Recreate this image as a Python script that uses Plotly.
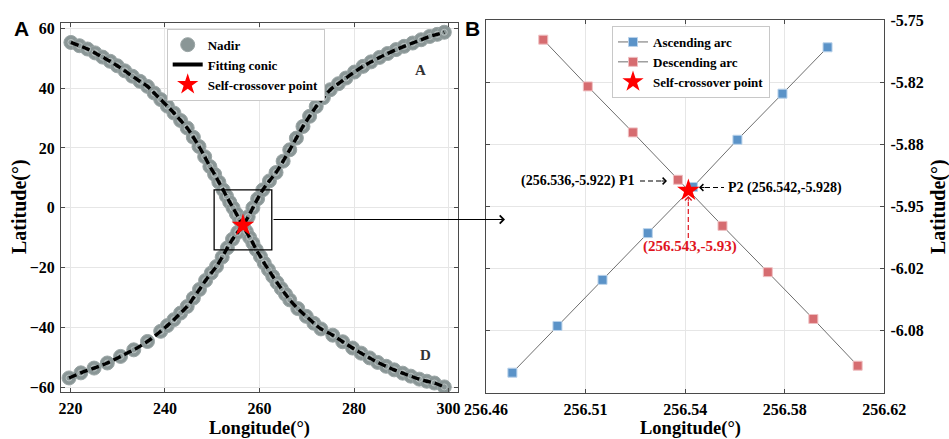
import plotly.graph_objects as go

# ---------------- data ----------------
# Panel A: descending arc nadir points (lon, lat)
desc_lon = [220.1, 221.9, 223.6, 225.2, 226.8, 228.4, 229.9, 231.5, 233.1, 234.7,
            236.3, 237.7, 239.1, 240.5, 241.9, 243.3, 244.7, 246.0, 247.2, 248.4,
            249.5, 250.5, 251.4, 252.3, 253.0, 253.7, 254.4, 255.1, 255.8, 256.5,
            257.2, 257.9, 258.6, 259.3, 260.2, 261.0, 261.9, 262.8, 263.7, 264.6,
            265.5, 266.4, 268.1, 269.9, 271.5, 273.0, 275.5, 277.6, 279.7, 281.5,
            283.3, 285.0, 286.8, 288.5, 290.3, 292.0, 293.8, 295.4, 297.0, 299.1]
desc_lat = [55.3, 54.2, 53.1, 51.8, 50.4, 49.0, 47.5, 45.8, 44.0, 42.3,
            40.6, 38.4, 36.2, 34.0, 31.7, 29.2, 26.7, 23.6, 20.5, 17.1,
            13.8, 11.2, 8.6, 6.0, 3.9, 1.9, 0.0, -2.0, -4.0, -5.9,
            -7.9, -9.9, -11.8, -14.0, -16.3, -18.5, -20.7, -22.9, -25.0, -27.0,
            -28.9, -30.8, -33.7, -36.3, -38.6, -40.5, -42.6, -44.8, -46.9, -48.6,
            -50.2, -51.7, -53.0, -54.2, -55.3, -56.3, -57.3, -58.0, -58.6, -59.9]
# Panel A: ascending arc nadir points (lon, lat)
asc_lon = [219.7, 222.2, 225.0, 227.8, 230.6, 233.4, 236.3, 239.1, 240.5, 241.9,
           243.3, 244.7, 246.0, 247.3, 248.6, 249.8, 250.9, 252.1, 253.2, 254.3,
           255.4, 256.5, 257.6, 258.6, 259.6, 260.7, 262.1, 263.5, 265.0, 266.4,
           267.8, 269.2, 270.6, 272.0, 273.5, 275.0, 276.7, 278.3, 280.1, 281.9,
           283.6, 285.4, 287.1, 288.9, 290.6, 292.4, 294.2, 296.0, 297.6, 299.1]
asc_lat = [-56.9, -55.2, -53.6, -51.9, -49.7, -47.5, -44.7, -41.3, -39.4, -37.4,
           -35.2, -33.0, -30.2, -27.3, -24.3, -21.8, -19.6, -16.5, -13.4, -10.5,
           -8.2, -5.9, -3.0, 0.0, 3.0, 6.0, 9.0, 11.8, 15.6, 19.4,
           23.3, 27.2, 30.6, 33.9, 36.8, 39.5, 41.5, 43.4, 45.4, 47.3,
           48.8, 50.3, 51.6, 52.9, 54.0, 55.1, 56.2, 57.3, 58.0, 58.7]
cross_a = (256.5, -5.9)

# Panel B: zoomed arcs
b_asc_lon = [256.4706, 256.4887, 256.5068, 256.5250, 256.5431, 256.5610, 256.5791, 256.5972]
b_asc_lat = [-6.1285, -6.0783, -6.0288, -5.9786, -5.9291, -5.8783, -5.8288, -5.7790]
b_desc_lon = [256.4830, 256.5009, 256.5190, 256.5371, 256.5550, 256.5732, 256.5915, 256.6093]
b_desc_lat = [-5.7708, -5.8210, -5.8704, -5.9213, -5.9708, -6.0205, -6.0708, -6.1210]
cross_b = (256.5413, -5.9328)

# tick labels
a_xticks = [220, 240, 260, 280, 300]
a_yticks = [-60, -40, -20, 0, 20, 40, 60]
b_xtickvals = [256.46, 256.50, 256.54, 256.58, 256.62]
b_xticktext = ["256.46", "256.51", "256.54", "256.58", "256.62"]
b_ytickvals = [-5.75 - k / 15 for k in range(6)]
b_yticktext = ["-5.75", "-5.82", "-5.88", "-5.95", "-6.02", "-6.08"]

# ---------------- styling ----------------
W, H = 949, 439
SERIF = "Liberation Serif"
GRAY = "#8a9696"
BLUE = "#5b93c8"
RED = "#d66c70"
AX = "#4a4a4a"


def px(x):
    return x / W


def py(y):
    return 1 - y / H


fig = go.Figure()

# ----- Panel A -----
for i, (lo, la) in enumerate([(desc_lon, desc_lat), (asc_lon, asc_lat)]):
    fig.add_trace(go.Scatter(x=lo, y=la, mode="markers", name="Nadir",
                             marker=dict(symbol="circle", size=14, color=GRAY,
                                         line=dict(color="#9aa5a5", width=1)),
                             legend="legend", showlegend=(i == 0),
                             xaxis="x", yaxis="y"))
for lo, la in [(desc_lon, desc_lat), (asc_lon, asc_lat)]:
    fig.add_trace(go.Scatter(x=lo, y=la, mode="markers", showlegend=False,
                             marker=dict(symbol="circle-open", size=6, color="#b9c1c1",
                                         line=dict(width=1)),
                             xaxis="x", yaxis="y"))
for lo, la in [(desc_lon, desc_lat), (asc_lon, asc_lat)]:
    fig.add_trace(go.Scatter(x=lo, y=la, mode="lines", showlegend=False,
                             line=dict(color="black", width=3.4, dash="8px,4px", shape="spline"),
                             xaxis="x", yaxis="y"))
fig.add_trace(go.Scatter(x=[None], y=[None], mode="lines", name="Fitting conic",
                         line=dict(color="black", width=4), legend="legend",
                         xaxis="x", yaxis="y"))
fig.add_trace(go.Scatter(x=[cross_a[0]], y=[cross_a[1]], mode="markers",
                         name="Self-crossover point", legend="legend",
                         marker=dict(symbol="star", size=17, color="red",
                                     line=dict(width=0)),
                         xaxis="x", yaxis="y"))

# ----- Panel B -----
fig.add_trace(go.Scatter(x=b_asc_lon, y=b_asc_lat, mode="lines+markers", name="Ascending arc",
                         line=dict(color="#6e6e6e", width=1),
                         marker=dict(symbol="square", size=9, color=BLUE,
                                     line=dict(color="#b9d2ea", width=1)),
                         legend="legend2", xaxis="x2", yaxis="y2"))
fig.add_trace(go.Scatter(x=b_desc_lon, y=b_desc_lat, mode="lines+markers", name="Descending arc",
                         line=dict(color="#6e6e6e", width=1),
                         marker=dict(symbol="square", size=9, color=RED,
                                     line=dict(color="#efc0c2", width=1)),
                         legend="legend2", xaxis="x2", yaxis="y2"))
fig.add_trace(go.Scatter(x=[cross_b[0]], y=[cross_b[1]], mode="markers",
                         name="Self-crossover point", legend="legend2",
                         marker=dict(symbol="star", size=17, color="red", line=dict(width=0)),
                         xaxis="x2", yaxis="y2"))

tickfont = dict(family=SERIF, size=16, color="black", weight="bold")
common = dict(showline=True, linecolor=AX, linewidth=1, mirror="ticks",
              ticks="inside", ticklen=4, tickcolor=AX, showgrid=True,
              gridcolor="#e6e6e6", gridwidth=1, zeroline=False, tickfont=tickfont,
              automargin=False)

legfont = dict(family=SERIF, size=13, color="black", weight="bold")
fig.update_layout(
    template="none",
    width=W, height=H, margin=dict(l=0, r=0, t=0, b=0, pad=0, autoexpand=False),
    paper_bgcolor="white", plot_bgcolor="white",
    xaxis=dict(domain=[px(61), px(458)], range=[218, 302], tickvals=a_xticks,
               anchor="y", ticklabelstandoff=2, **common),
    yaxis=dict(domain=[py(392), py(22.7)], range=[-61.6, 61.9], tickvals=a_yticks,
               anchor="x", ticklabelstandoff=2, **common),
    xaxis2=dict(domain=[px(486), px(884.3)], range=[256.46, 256.62], tickvals=b_xtickvals,
                ticktext=b_xticktext, anchor="y2", ticklabelstandoff=2, **common),
    yaxis2=dict(domain=[py(392.7), py(20.3)], range=[-6.15, -5.75], tickvals=b_ytickvals,
                ticktext=b_yticktext, anchor="x2", side="right", ticklabelstandoff=2, **common),
    legend=dict(x=px(166.7), y=py(28.7), xanchor="left", yanchor="top",
                bgcolor="white", bordercolor="#c8c8c8", borderwidth=1,
                font=legfont, tracegroupgap=0, itemwidth=30),
    legend2=dict(x=px(612), y=py(26), xanchor="left", yanchor="top",
                 bgcolor="white", bordercolor="#c8c8c8", borderwidth=1,
                 font=legfont, tracegroupgap=0, itemwidth=30),
)

bold_serif = lambda s, c="black": dict(family=SERIF, size=s, color=c, weight="bold")
ann = []
# panel labels
ann.append(dict(text="A", x=px(21.7), y=py(28.5), font=dict(family="Liberation Sans", size=21, color="black", weight="bold")))
ann.append(dict(text="B", x=px(472), y=py(28.5), font=dict(family="Liberation Sans", size=21, color="black", weight="bold")))
# axis titles
ann.append(dict(text="Latitude(°)", x=px(19), y=py(207), textangle=-90, font=bold_serif(20)))
ann.append(dict(text="Longitude(°)", x=px(259), y=py(428), font=bold_serif(18.5)))
ann.append(dict(text="Longitude(°)", x=px(690), y=py(428), font=bold_serif(18.5)))
ann.append(dict(text="Latitude(°)", x=px(938), y=py(207), textangle=-90, font=bold_serif(20)))
# arc labels
ann.append(dict(text="A", x=px(420.7), y=py(70), font=bold_serif(15, "#333333")))
ann.append(dict(text="D", x=px(425), y=py(355), font=bold_serif(15, "#333333")))
# connector arrow
ann.append(dict(text="", x=px(505), y=py(219.5), ax=-233, ay=0, showarrow=True,
                arrowhead=4, arrowsize=1.3, arrowwidth=1.2, arrowcolor="black"))
# panel B callouts
ann.append(dict(text="(256.536,-5.922) P1", x=px(637), y=py(181), xanchor="right",
                font=bold_serif(14)))
ann.append(dict(text="", x=px(667), y=py(181), ax=-7, ay=0, showarrow=True,
                arrowhead=4, arrowsize=1.3, arrowwidth=1, arrowcolor="black"))
ann.append(dict(text="P2 (256.542,-5.928)", x=px(726), y=py(187.5), xanchor="left",
                font=bold_serif(14)))
ann.append(dict(text="", x=px(699), y=py(187.5), ax=7, ay=0, showarrow=True,
                arrowhead=4, arrowsize=1.3, arrowwidth=1, arrowcolor="black"))
ann.append(dict(text="(256.543,-5.93)", x=px(690), y=py(246.5),
                font=bold_serif(15, "#e0141e")))
ann.append(dict(text="", x=px(688.3), y=py(196), ax=0, ay=7, showarrow=True,
                arrowhead=4, arrowsize=1.3, arrowwidth=1, arrowcolor="#e0141e"))
for a in ann:
    a.setdefault("xref", "paper")
    a.setdefault("yref", "paper")
    a.setdefault("showarrow", False)
    a.setdefault("xanchor", "center")
    a.setdefault("yanchor", "middle")
fig.update_layout(annotations=ann)

shapes = [
    dict(type="rect", xref="x", yref="y", x0=250.4, x1=262.6, y0=-14.1, y1=6.0,
         line=dict(color="black", width=1.3)),
    dict(type="line", xref="paper", yref="paper", x0=px(640), x1=px(661), y0=py(181), y1=py(181),
         line=dict(color="black", width=1.2, dash="5px,3px")),
    dict(type="line", xref="paper", yref="paper", x0=px(705), x1=px(724), y0=py(187.5), y1=py(187.5),
         line=dict(color="black", width=1.2, dash="5px,3px")),
    dict(type="line", xref="paper", yref="paper", x0=px(688.3), x1=px(688.3), y0=py(238), y1=py(202),
         line=dict(color="#e0141e", width=1.2, dash="5px,3px")),
]
fig.update_layout(shapes=shapes)

fig.write_html("out.html")
